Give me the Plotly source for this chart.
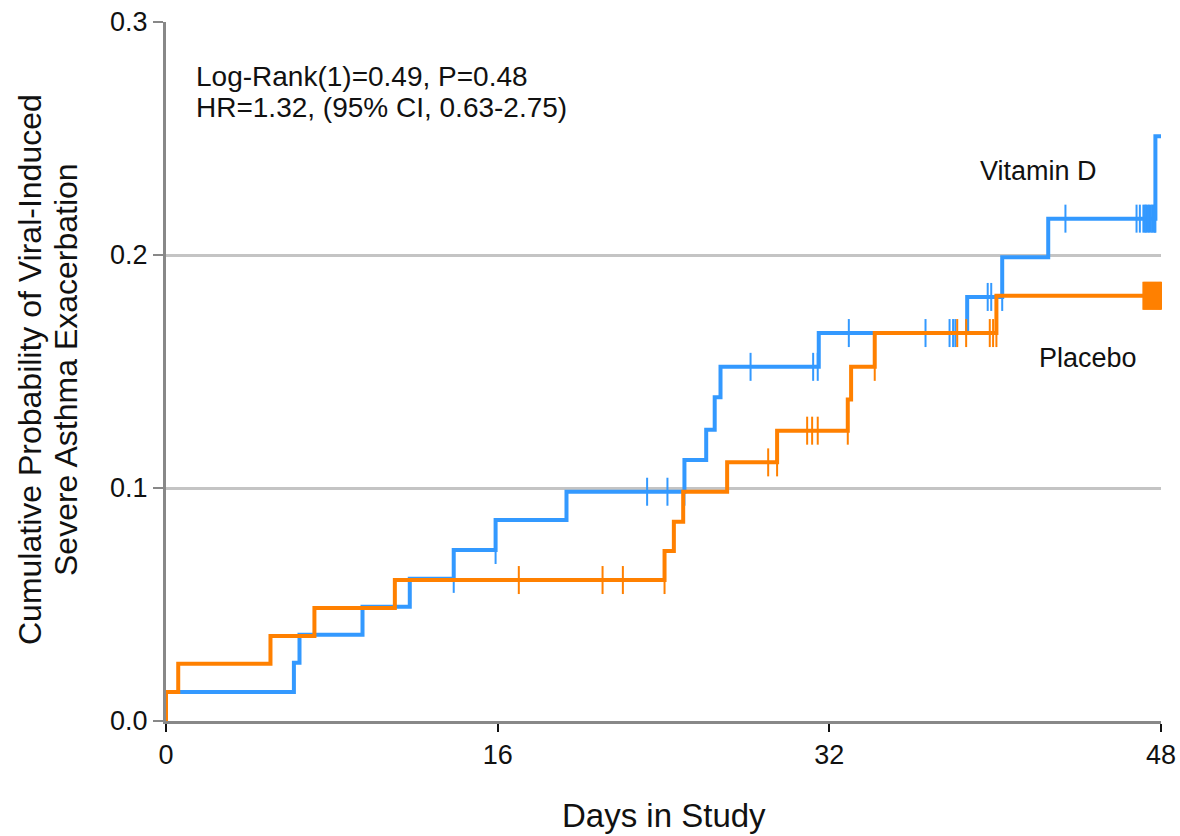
import numpy as np
import plotly.graph_objects as go

# ---- data ----
vit_event_days = [0, 6.17, 6.44, 9.48, 11.76, 13.88, 15.9, 19.32, 25.01, 26.06, 26.47, 26.75,
                  31.49, 38.65, 40.34, 42.56, 47.73]
vit_cum_prob = [0.0124, 0.025, 0.037, 0.049, 0.061, 0.0734, 0.0863, 0.0984, 0.112, 0.125, 0.139,
                0.152, 0.1665, 0.182, 0.199, 0.2156, 0.251]
vit_censor_days = [13.88, 15.9, 23.21, 24.19, 25.01, 28.2, 31.22, 31.44, 32.94, 36.64, 37.8, 37.97,
                   38.08, 39.64, 39.81, 40.34, 43.39, 46.82, 46.98, 47.15, 47.22, 47.28, 47.35,
                   47.42, 47.5, 47.57, 47.64, 47.7, 47.73]

pla_event_days = [0, 0.59, 5.04, 7.16, 11.04, 24.05, 24.5, 24.95, 27.07, 29.48, 32.89, 33.05,
                  34.19, 40.06]
pla_cum_prob = [0.0124, 0.0246, 0.0365, 0.0485, 0.0605, 0.073, 0.0855, 0.0984, 0.111, 0.1246,
                0.138, 0.152, 0.1665, 0.1825]
pla_censor_days = [17.02, 21.06, 22.04, 24.05, 29.05, 29.48, 30.93, 31.17, 31.44, 32.89, 34.19,
                   38.17, 38.6, 39.74, 39.9, 40.06, 47.15, 47.2, 47.25, 47.3, 47.35, 47.4, 47.45,
                   47.5, 47.55, 47.6, 47.65, 47.7, 47.75, 47.8, 47.85, 47.9, 47.95, 48.0]

x_ticks = [0, 16, 32, 48]
y_ticks = [0.0, 0.1, 0.2, 0.3]
y_tick_labels = ["0.0", "0.1", "0.2", "0.3"]
end_day = 48

BLUE = "#3399FF"
ORANGE = "#FF8000"
FONT = "Liberation Sans, Arial, sans-serif"


def step_xy(days, probs):
    xs = [0] + list(days) + [end_day]
    ys = [0] + list(probs) + [probs[-1]]
    return xs, ys


def censor_y(cdays, days, probs):
    days = np.array(days)
    out = []
    for c in cdays:
        n = int(np.searchsorted(days, c, side="left"))
        out.append(0.0 if n == 0 else probs[n - 1])
    return out


fig = go.Figure()
for days, probs, cens, col in [(vit_event_days, vit_cum_prob, vit_censor_days, BLUE),
                                (pla_event_days, pla_cum_prob, pla_censor_days, ORANGE)]:
    xs, ys = step_xy(days, probs)
    fig.add_trace(go.Scatter(x=xs, y=ys, mode="lines", line=dict(shape="hv", color=col, width=4),
                             showlegend=False, hoverinfo="skip"))
    fig.add_trace(go.Scatter(x=cens, y=censor_y(cens, days, probs), mode="markers",
                             marker=dict(symbol="line-ns", size=20, line=dict(color=col, width=2)),
                             showlegend=False, cliponaxis=False, hoverinfo="skip"))

fig.update_layout(
    width=1180, height=836,
    margin=dict(l=166, r=19, t=22, b=115),
    paper_bgcolor="white", plot_bgcolor="white",
    font=dict(family=FONT, color="#111111", size=27),
    xaxis=dict(range=[0, 48], tickvals=x_ticks, ticks="outside", ticklen=8, tickwidth=2,
               tickcolor="#111111", showline=True, linecolor="#888888", linewidth=3,
               showgrid=False, zeroline=False, tickfont=dict(size=27), automargin=False),
    yaxis=dict(range=[0, 0.3], tickvals=y_ticks, ticktext=y_tick_labels, ticks="outside",
               ticklen=10, tickwidth=2, tickcolor="#888888", showline=True, linecolor="#888888",
               linewidth=3, showgrid=True, gridcolor="#C4C4C4", gridwidth=3, zeroline=False,
               tickfont=dict(size=27), automargin=False),
    annotations=[
        dict(text="Log-Rank(1)=0.49, P=0.48", xref="x", yref="y",
             x=1.35, y=0.2764, xanchor="left", yanchor="middle", showarrow=False,
             font=dict(size=28)),
        dict(text="HR=1.32, (95% CI, 0.63-2.75)", xref="x", yref="y",
             x=1.35, y=0.2631, xanchor="left", yanchor="middle", showarrow=False,
             font=dict(size=28)),
        dict(text="Vitamin D", xref="x", yref="y", x=42.1, y=0.236, xanchor="center",
             yanchor="middle", showarrow=False, font=dict(size=27)),
        dict(text="Placebo", xref="x", yref="y", x=44.5, y=0.156, xanchor="center",
             yanchor="middle", showarrow=False, font=dict(size=27)),
        dict(text="Days in Study", xref="paper", yref="paper", x=0.5, y=-0.1345,
             xanchor="center", yanchor="middle", showarrow=False, font=dict(size=33)),
        dict(text="Cumulative Probability of Viral-Induced",
             xref="paper", yref="paper", x=(30 - 166) / 995, y=(721 - 370) / 699,
             xanchor="center", yanchor="middle", textangle=-90, showarrow=False,
             font=dict(size=32)),
        dict(text="Severe Asthma Exacerbation",
             xref="paper", yref="paper", x=(66 - 166) / 995, y=(721 - 370) / 699,
             xanchor="center", yanchor="middle", textangle=-90, showarrow=False,
             font=dict(size=32)),
    ],
)

fig.write_html("out.html", config={"displayModeBar": False},
               post_script="document.body.style.margin='0';")
